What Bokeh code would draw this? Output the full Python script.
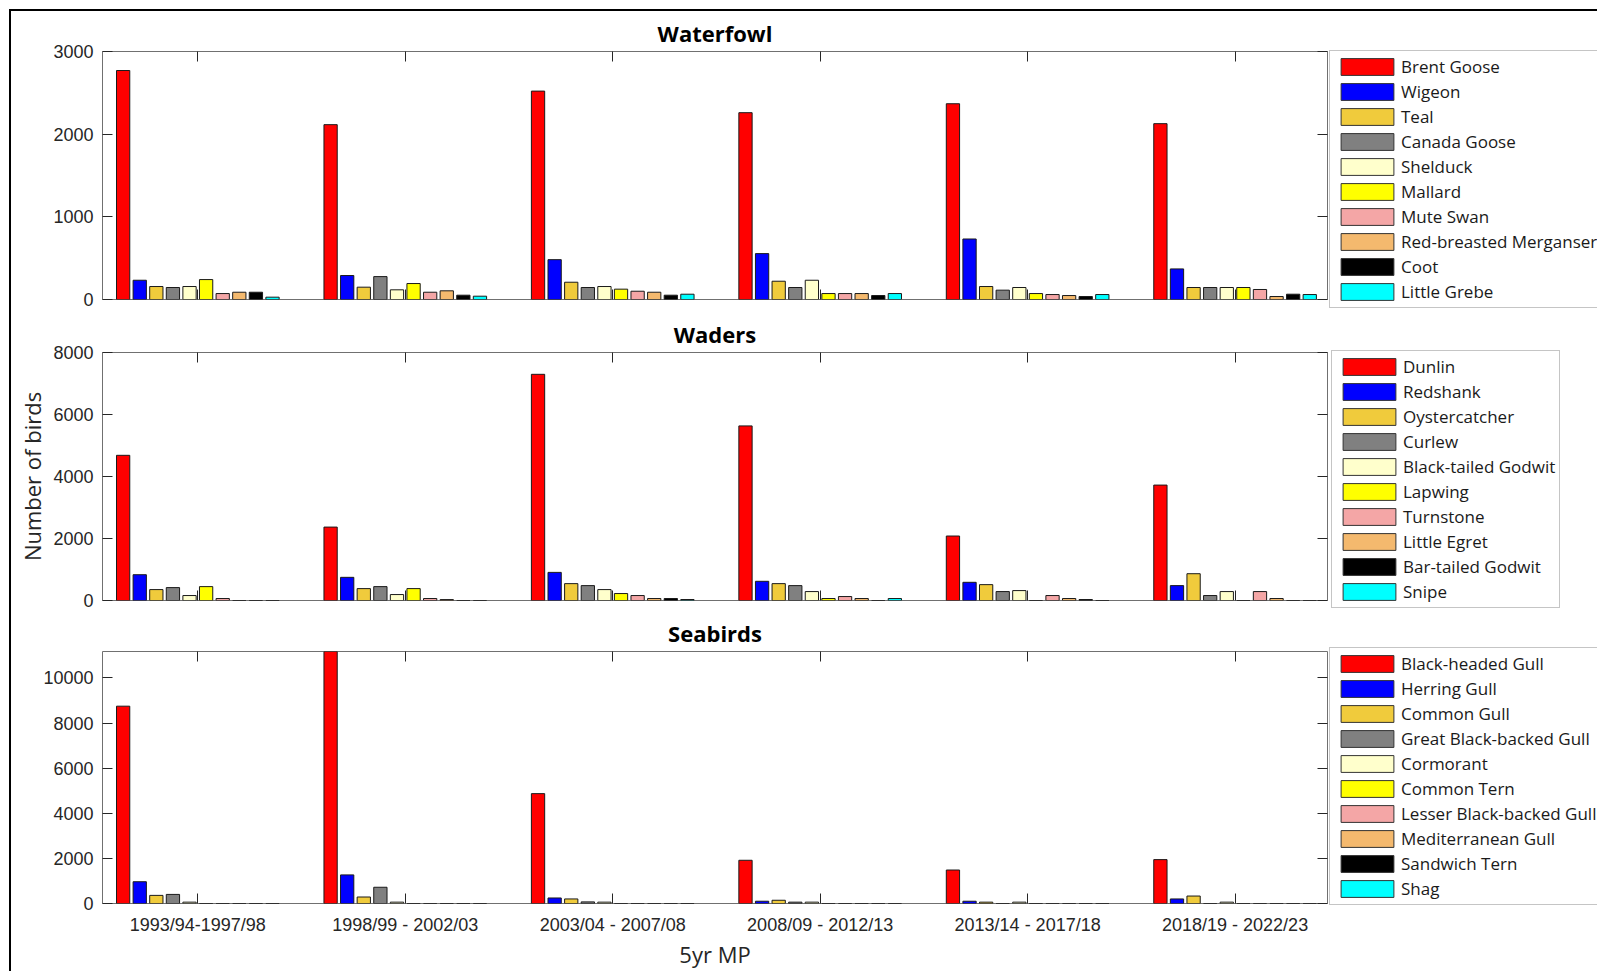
from bokeh.plotting import figure
from bokeh.models import Range1d, LinearAxis, FixedTicker, Legend, LegendItem, ColumnDataSource
from bokeh.layouts import column, row
from bokeh.embed import file_html
from bokeh.resources import INLINE

# ---------------- data ----------------
periods = ["1993/94-1997/98", "1998/99 - 2002/03", "2003/04 - 2007/08",
           "2008/09 - 2012/13", "2013/14 - 2017/18", "2018/19 - 2022/23"]

colors = ["#FF0000", "#0000FF", "#F0CB3C", "#808080", "#FFFFCC",
          "#FFFF00", "#F4A6A6", "#F4B96E", "#000000", "#00FFFF"]

# Waterfowl
waterfowl_names = ["Brent Goose", "Wigeon", "Teal", "Canada Goose", "Shelduck",
                   "Mallard", "Mute Swan", "Red-breasted Merganser", "Coot", "Little Grebe"]
brent_goose = [2770, 2115, 2521, 2260, 2368, 2127]
wigeon = [233, 290, 482, 555, 732, 370]
teal = [157, 149, 209, 221, 157, 145]
canada_goose = [145, 277, 145, 145, 113, 145]
shelduck = [157, 117, 157, 233, 145, 145]
mallard = [241, 193, 125, 72, 72, 145]
mute_swan = [72, 88, 100, 72, 60, 121]
rb_merganser = [88, 105, 88, 72, 48, 36]
coot = [88, 52, 52, 48, 36, 64]
little_grebe = [28, 40, 64, 72, 60, 60]

# Waders
wader_names = ["Dunlin", "Redshank", "Oystercatcher", "Curlew", "Black-tailed Godwit",
               "Lapwing", "Turnstone", "Little Egret", "Bar-tailed Godwit", "Snipe"]
dunlin = [4683, 2368, 7296, 5632, 2080, 3723]
redshank = [832, 747, 907, 619, 587, 480]
oystercatcher = [352, 384, 544, 544, 512, 864]
curlew = [416, 448, 480, 480, 288, 160]
bt_godwit = [160, 192, 352, 288, 320, 288]
lapwing = [448, 384, 224, 64, 0, 0]
turnstone = [64, 64, 160, 128, 160, 288]
little_egret = [0, 30, 64, 64, 64, 64]
bar_godwit = [0, 0, 64, 0, 32, 0]
snipe = [0, 0, 32, 64, 0, 0]

# Seabirds
seabird_names = ["Black-headed Gull", "Herring Gull", "Common Gull", "Great Black-backed Gull",
                 "Cormorant", "Common Tern", "Lesser Black-backed Gull", "Mediterranean Gull",
                 "Sandwich Tern", "Shag"]
bh_gull = [8746, 11500, 4870, 1916, 1484, 1945]
herring_gull = [965, 1268, 245, 101, 101, 202]
common_gull = [360, 288, 202, 144, 60, 331]
gbb_gull = [403, 720, 72, 60, 0, 0]
cormorant = [60, 60, 60, 60, 60, 60]
common_tern = [0, 0, 0, 0, 0, 0]
lbb_gull = [0, 0, 0, 0, 0, 0]
med_gull = [0, 0, 0, 0, 0, 0]
sandwich_tern = [0, 0, 0, 0, 0, 0]
shag = [0, 0, 0, 0, 0, 0]

waterfowl_series = [brent_goose, wigeon, teal, canada_goose, shelduck,
                    mallard, mute_swan, rb_merganser, coot, little_grebe]
wader_series = [dunlin, redshank, oystercatcher, curlew, bt_godwit,
                lapwing, turnstone, little_egret, bar_godwit, snipe]
seabird_series = [bh_gull, herring_gull, common_gull, gbb_gull, cormorant,
                  common_tern, lbb_gull, med_gull, sandwich_tern, shag]

# ---------------- styling ----------------
X_MIN, X_MAX = 0.5405, 6.4455
GROUP_W = 0.8
BAR_FIG_W = 1317
LEG_FIG_W = 269
TICK_FONT = "Liberation Sans"
TEXT_FONT = "Open Sans"
DARK = "#262626"
group_ticks = list(range(1, len(periods) + 1))
label_map = {i + 1: lab for i, lab in enumerate(periods)}


def style_axis(ax, show_labels, standoff=9, tick_len=10):
    ax.major_tick_in = tick_len
    ax.major_tick_out = 0
    ax.minor_tick_in = 0
    ax.minor_tick_out = 0
    ax.axis_line_color = None
    ax.major_tick_line_color = DARK
    ax.major_label_text_font = TICK_FONT
    ax.major_label_text_font_size = "18px"
    if show_labels:
        ax.major_label_text_color = DARK
        ax.major_label_standoff = standoff
    else:
        ax.major_label_text_color = None
        ax.major_label_standoff = 0


def make_panel(title, names, series, y_max, y_ticks, height, b_top, b_bottom,
               leg_top, leg_left, show_x_labels=False, y_label=None):
    p = figure(width=BAR_FIG_W, height=height,
               x_range=Range1d(X_MIN, X_MAX), y_range=Range1d(0, y_max),
               output_backend="svg", toolbar_location=None,
               min_border_left=91, min_border_right=1,
               min_border_top=b_top, min_border_bottom=b_bottom,
               x_axis_location=None, y_axis_location=None)
    p.frame_align = False
    p.grid.visible = False
    p.outline_line_color = "#707070"
    p.outline_line_width = 1
    p.background_fill_color = "white"
    p.border_fill_color = "white"

    p.title.text = title
    p.title.align = "center"
    p.title.text_font = TEXT_FONT
    p.title.text_font_size = "22px"
    p.title.text_font_style = "bold"
    p.title.text_color = "#000000"
    p.title.standoff = 8

    n = len(names)
    pitch = GROUP_W / n
    sources = []
    for j, (vals, col) in enumerate(zip(series, colors)):
        off = (j - (n - 1) / 2) * pitch
        xs = [g + off for g in group_ticks]
        src = ColumnDataSource(dict(x=xs, top=vals))
        sources.append(src)
        p.vbar(x="x", top="top", width=pitch * 0.8, source=src,
               fill_color=col, line_color="#1a1a1a", line_width=1)

    # axes
    xb = LinearAxis(ticker=FixedTicker(ticks=group_ticks), major_label_overrides=label_map)
    style_axis(xb, show_x_labels, standoff=11)
    if show_x_labels:
        xb.axis_label = "5yr MP"
        xb.axis_label_text_font = TEXT_FONT
        xb.axis_label_text_font_size = "22px"
        xb.axis_label_text_font_style = "normal"
        xb.axis_label_text_color = DARK
        xb.axis_label_standoff = 1
    p.add_layout(xb, "below")

    xt = LinearAxis(ticker=FixedTicker(ticks=group_ticks))
    style_axis(xt, False)
    p.add_layout(xt, "above")

    yl = LinearAxis(ticker=FixedTicker(ticks=y_ticks))
    style_axis(yl, True, standoff=9)
    if y_label:
        yl.axis_label = y_label
        yl.axis_label_text_font = TEXT_FONT
        yl.axis_label_text_font_size = "22px"
        yl.axis_label_text_font_style = "normal"
        yl.axis_label_text_color = DARK
        yl.axis_label_standoff = 3
    p.add_layout(yl, "left")

    yr = LinearAxis(ticker=FixedTicker(ticks=y_ticks))
    style_axis(yr, False)
    p.add_layout(yr, "right")

    # legend in its own small figure to the right of the axes box
    # (the same bar data are bound to it, outside its visible x range)
    lg = figure(width=LEG_FIG_W, height=height, output_backend="svg", toolbar_location=None,
                x_range=Range1d(-3, -2), y_range=Range1d(0, y_max),
                min_border_left=leg_left, min_border_right=0,
                min_border_top=leg_top, min_border_bottom=0,
                x_axis_location=None, y_axis_location=None)
    lg.frame_align = False
    lg.grid.visible = False
    lg.outline_line_color = None
    lg.background_fill_color = "white"
    lg.border_fill_color = "white"
    swatches = []
    for src, col in zip(sources, colors):
        r = lg.vbar(x="x", top="top", width=pitch * 0.8, source=src,
                    fill_color=col, line_color="#333333", line_width=1)
        swatches.append(r)
    legend = Legend(items=[LegendItem(label=nm, renderers=[r]) for nm, r in zip(names, swatches)],
                    location="top_left", orientation="vertical",
                    glyph_width=66, glyph_height=21, label_height=19, spacing=2,
                    padding=4, margin=0, label_standoff=1,
                    label_text_font=TEXT_FONT, label_text_font_size="17px",
                    label_text_color="#1a1a1a",
                    border_line_color="#8c8c8c", border_line_width=1,
                    background_fill_color="white", background_fill_alpha=1.0)
    lg.add_layout(legend, "center")
    return row(p, lg, spacing=0)


r1 = make_panel("Waterfowl", waterfowl_names, waterfowl_series, 3000,
                [0, 1000, 2000, 3000], 301, 40, 13, 39, 1)
r2 = make_panel("Waders", wader_names, wader_series, 8000,
                [0, 2000, 4000, 6000, 8000], 299, 38, 11, 38, 3,
                y_label="Number of birds")
r3 = make_panel("Seabirds", seabird_names, seabird_series, 11170,
                [0, 2000, 4000, 6000, 8000, 10000], 360, 38, 65, 36, 1,
                show_x_labels=True)

layout = column(r1, r2, r3, spacing=0,
                styles={"margin-left": "9px", "margin-top": "9px",
                        "border-left": "2px solid black", "border-top": "2px solid black"})

open("out.html", "w").write(file_html(layout, INLINE))
